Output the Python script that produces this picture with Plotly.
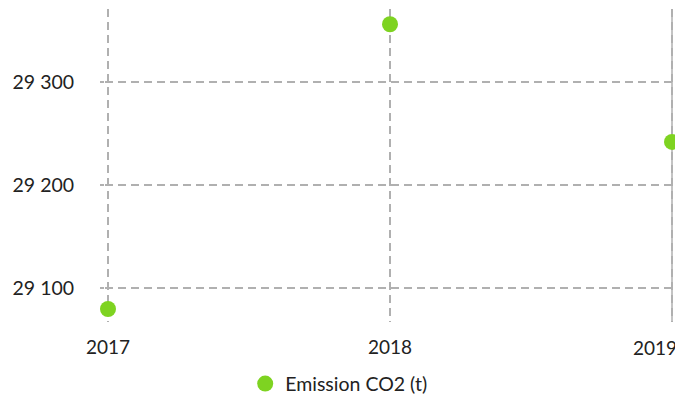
import plotly.graph_objects as go

years = ["2017", "2018", "2019"]
emissions = [29080, 29356, 29242]
series_name = "Emission CO2 (t)"
y_ticks = [29100, 29200, 29300]

xvals = [int(y) for y in years]
pad = 0.0106
grid_color = "#b0b0b0"
grid_dash = "8px,5px"

fig = go.Figure()
fig.add_trace(go.Scatter(
    x=xvals, y=emissions, mode="markers", name=series_name,
    marker=dict(size=16, color="#7ed321"),
    cliponaxis=False, showlegend=True,
))

grid = dict(showgrid=True, gridcolor=grid_color, gridwidth=1.5, griddash=grid_dash,
            zeroline=False, showline=False, automargin=False)

# make sure the edge gridline at the last category is drawn
fig.add_shape(type="line", xref="x", yref="paper", x0=xvals[-1], x1=xvals[-1], y0=0, y1=1,
              layer="below", line=dict(color=grid_color, width=1.5, dash=grid_dash))

# last tick label is kept inside the chart (right-justified), as in the reference
ticktext = years[:-1] + [""]
fig.add_annotation(x=xvals[-1], xref="x", y=0, yref="paper", yanchor="top",
                   xanchor="right", xshift=7, yshift=-12, text=years[-1],
                   showarrow=False, font=dict(family="Lato", size=19, color="#222222"))

fig.update_layout(
    width=675, height=402,
    margin=dict(l=105, r=0, t=9, b=80, autoexpand=False),
    paper_bgcolor="white", plot_bgcolor="white",
    separators=", ",
    font=dict(family="Lato", size=19, color="#222222"),
    xaxis=dict(range=[xvals[0] - pad, xvals[-1] + pad], tickvals=xvals, ticktext=ticktext,
               ticks="", ticklabelstandoff=12, **grid),
    yaxis=dict(range=[29067.4, 29370.8], tickvals=y_ticks, tickformat=",d",
               ticks="outside", ticklen=4, tickcolor=grid_color, tickwidth=1.5,
               ticklabelstandoff=22, tickfont=dict(size=19.5), **grid),
    legend=dict(orientation="h", x=0.41, xanchor="center", yref="container",
                y=0.045, yanchor="middle", font=dict(size=19.5)),
)

fig.write_html("out.html", config={"displayModeBar": False},
               post_script="document.body.style.margin='0';document.body.style.overflow='hidden';")
